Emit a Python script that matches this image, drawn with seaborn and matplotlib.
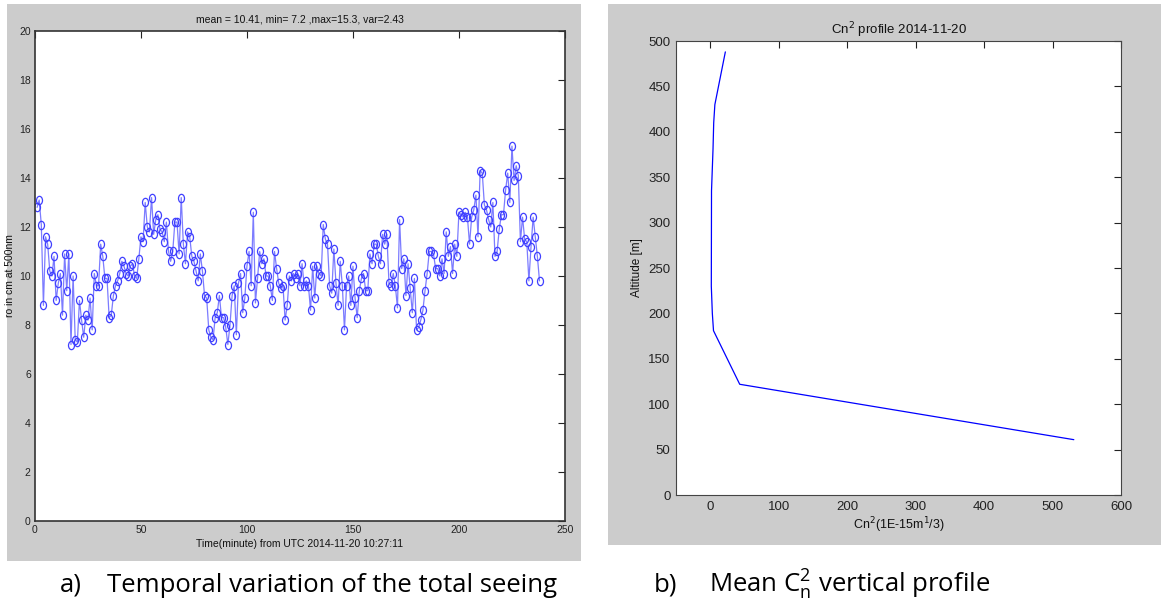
import matplotlib
matplotlib.use("Agg")
import matplotlib.pyplot as plt
from matplotlib.patches import Rectangle
from matplotlib.path import Path
from matplotlib.transforms import Affine2D
import numpy as np
import pandas as pd
import seaborn as sns

# seeing r0 (cm at 500nm), one sample per minute
r0_cm = [12.8, 13.1, 12.1, 8.8, 11.6, 11.3, 10.2, 10.0, 10.8, 9.0,
         9.7, 10.1, 8.4, 10.9, 9.4, 10.9, 7.2, 10.0, 7.4, 7.3,
         9.0, 8.2, 7.5, 8.4, 8.2, 9.1, 7.8, 10.1, 9.6, 9.6,
         11.3, 10.8, 9.9, 9.9, 8.3, 8.4, 9.2, 9.6, 9.8, 10.1,
         10.6, 10.4, 10.1, 10.0, 10.4, 10.5, 10.0, 9.9, 10.7, 11.6,
         11.4, 13.0, 12.0, 11.8, 13.2, 11.7, 12.3, 12.5, 11.9, 11.8,
         11.4, 12.2, 11.0, 10.6, 11.0, 12.2, 12.2, 10.9, 13.2, 11.3,
         10.5, 11.8, 11.6, 10.8, 10.6, 10.2, 9.8, 10.9, 10.2, 9.2,
         9.1, 7.8, 7.5, 7.4, 8.3, 8.5, 9.2, 8.3, 8.3, 7.9,
         7.2, 8.0, 9.2, 9.6, 7.6, 9.7, 10.1, 8.5, 9.1, 10.4,
         11.0, 9.6, 12.6, 8.9, 9.9, 11.0, 10.5, 10.7, 10.0, 10.0,
         9.6, 9.0, 11.0, 10.3, 9.7, 9.5, 9.6, 8.2, 8.8, 10.0,
         9.8, 10.1, 9.9, 10.1, 9.6, 10.5, 9.6, 9.8, 9.6, 8.6,
         10.4, 9.1, 10.4, 10.1, 10.0, 12.1, 11.5, 11.3, 9.6, 9.3,
         11.1, 9.7, 8.8, 10.6, 9.6, 7.8, 9.6, 10.0, 8.8, 10.4,
         9.1, 8.3, 9.4, 9.9, 10.1, 9.4, 9.4, 10.9, 10.5, 11.3,
         11.3, 10.8, 10.5, 11.7, 11.3, 11.7, 9.7, 9.6, 10.1, 9.6,
         8.7, 12.3, 10.3, 10.7, 9.2, 10.5, 9.5, 8.5, 9.9, 7.8,
         7.9, 8.2, 8.6, 9.4, 10.1, 11.0, 11.0, 10.9, 10.3, 10.3,
         10.0, 10.7, 10.1, 11.8, 10.8, 11.2, 10.1, 11.3, 10.8, 12.6,
         12.5, 12.4, 12.6, 12.4, 11.3, 12.4, 12.7, 13.3, 11.6, 14.3,
         14.2, 12.9, 12.7, 12.3, 12.0, 13.0, 10.8, 11.0, 11.9, 12.5,
         12.5, 13.5, 14.2, 13.0, 15.3, 13.9, 14.5, 14.1, 11.4, 12.4,
         11.5, 11.4, 9.8, 11.2, 12.4, 11.6, 10.8, 9.8]
minutes = np.arange(1, len(r0_cm) + 1)

# mean Cn2 profile
altitude_m = [61, 122, 181, 200, 230, 335, 381, 410, 430, 488]
cn2_1e15 = [531, 43, 4.7, 3.0, 1.5, 1.8, 4.0, 5.0, 6.7, 22]

seeing = pd.DataFrame({"t": minutes, "r0": r0_cm})
profile = pd.DataFrame({"cn2": cn2_1e15, "alt": altitude_m})

sns.set_style("white")
plt.rcParams["font.family"] = ["Liberation Sans", "DejaVu Sans"]
plt.rcParams["text.color"] = "#111111"
plt.rcParams["axes.labelcolor"] = "#111111"
narrow = ["Liberation Sans Narrow", "Liberation Sans", "DejaVu Sans"]

# the source image was squeezed sideways, so the circles look like tall ellipses
ellipse = Path.unit_circle().transformed(Affine2D().scale(0.72, 1.0))

fig = plt.figure(figsize=(11.61, 6.03), dpi=100)
gray = "#cccccc"
fig.add_artist(Rectangle((0.006, 0.0697), 0.494, 0.9237, transform=fig.transFigure,
                         facecolor=gray, edgecolor="none", zorder=0))
fig.add_artist(Rectangle((0.5237, 0.0962), 0.4763, 0.8972, transform=fig.transFigure,
                         facecolor=gray, edgecolor="none", zorder=0))

# a) temporal variation
ax1 = fig.add_axes([0.0301, 0.136, 0.4565, 0.8126])
sns.lineplot(data=seeing, x="t", y="r0", ax=ax1, color="#7c7cff", linewidth=0.9,
             marker=ellipse, markersize=6, markerfacecolor="none",
             markeredgecolor="#4040ff", markeredgewidth=0.9)
ax1.set_xlim(0, 250)
ax1.set_ylim(0, 20)
ax1.set_xticks(range(0, 251, 50))
ax1.set_yticks(range(0, 21, 2))
ax1.tick_params(direction="in", length=5, width=0.8, top=True, right=True,
                labelsize=7.5, colors="#222222", pad=3)
for lab in ax1.get_xticklabels() + ax1.get_yticklabels():
    lab.set_family(narrow)
ax1.set_title("mean = 10.41, min= 7.2 ,max=15.3, var=2.43", fontsize=7.5,
              family=narrow, pad=6)
ax1.set_xlabel("Time(minute) from UTC 2014-11-20 10:27:11", fontsize=7.5,
               family=narrow, labelpad=3)
ax1.set_ylabel("ro in cm at 500nm", fontsize=7.5, labelpad=3)
for s in ax1.spines.values():
    s.set_color("#333333")
    s.set_linewidth(1.2)

# b) Cn2 vertical profile
ax2 = fig.add_axes([0.5823, 0.179, 0.3833, 0.753])
sns.lineplot(data=profile, x="cn2", y="alt", ax=ax2, sort=False, estimator=None,
             color="#0000ff", linewidth=0.9)
ax2.set_xlim(-50, 600)
ax2.set_ylim(0, 500)
ax2.set_xticks(range(0, 601, 100))
ax2.set_yticks(range(0, 501, 50))
ax2.tick_params(direction="in", length=5, width=0.8, top=True, right=True,
                labelsize=9.5, colors="#222222", pad=4)
ax2.set_title(r"Cn$^2$ profile 2014-11-20", fontsize=9.5, pad=5)
ax2.set_xlabel(r"Cn$^2$(1E-15m$^1$/3)", fontsize=9, labelpad=2)
ax2.set_ylabel("Altitude [m]", fontsize=8.5, labelpad=4)
for s in ax2.spines.values():
    s.set_color("#444444")
    s.set_linewidth(0.8)

# captions
cap = ["Open Sans", "DejaVu Sans"]
ycap = 1 - 585 / 603
fig.text(60 / 1161, ycap, "a)", fontsize=18.5, family=cap, va="center", color="black")
fig.text(107 / 1161, ycap, "Temporal variation of the total seeing",
         fontsize=18.5, family=cap, va="center", color="black")
fig.text(654 / 1161, ycap, "b)", fontsize=18.5, family=cap, va="center", color="black")
fig.text(709 / 1161, ycap, r"Mean $\mathregular{C_n^2}$ vertical profile",
         fontsize=18.5, family=cap, va="center", color="black")

fig.savefig("out.png", dpi=100)
